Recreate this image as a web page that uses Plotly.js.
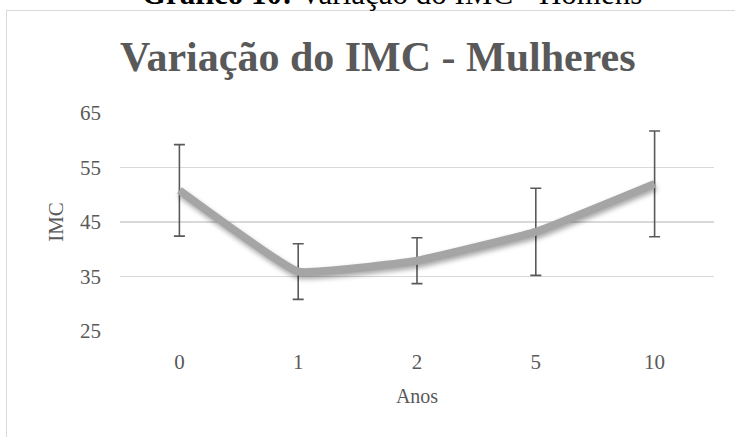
<!DOCTYPE html>
<html>
<head>
<meta charset="utf-8">
<script src="https://cdn.plot.ly/plotly-3.0.1.min.js"></script>
<style>
  html, body { margin: 0; padding: 0; background: #fff; overflow: hidden; }
  #wrap { position: relative; width: 735px; height: 437px; overflow: hidden; }
  #chart { position: absolute; left: 0; top: 0; width: 735px; height: 437px; }
  #frame { position: absolute; left: 6px; top: 10px; width: 800px; height: 500px;
           border-left: 1.5px solid #d9d9d9; border-top: 1.5px solid #d9d9d9; pointer-events: none; }
  #caption { position: absolute; left: 0; top: -22px; width: 784px; text-align: center;
             font-family: "Liberation Serif", "Times New Roman", serif; font-size: 31px;
             line-height: 31px; color: #000; white-space: nowrap; }
</style>
</head>
<body>
<div id="wrap">
  <div id="chart"></div>
  <div id="frame"></div>
  <div id="caption"><b>Gráfico 10:</b> Variação do IMC - Homens</div>
</div>
<script>
// Data
const anos = ['0', '1', '2', '5', '10'];
const imc = [50.8, 35.9, 37.9, 43.2, 52.0];
const desvio = [8.4, 5.1, 4.2, 8.0, 9.7];
const yTicks = [25, 35, 45, 55, 65];

const fontFam = '"Liberation Serif", "Times New Roman", serif';
const grey = '#595959';

const trace = {
  x: anos,
  y: imc,
  type: 'scatter',
  mode: 'lines',
  line: { color: '#a5a5a5', width: 8, shape: 'spline', smoothing: 0.3 },
  error_y: { type: 'data', array: desvio, visible: true, color: grey, thickness: 1.6, width: 5.5 },
  hoverinfo: 'skip'
};

const layout = {
  width: 735,
  height: 437,
  margin: { l: 120, r: 21, t: 113, b: 106 },
  paper_bgcolor: 'rgba(0,0,0,0)',
  plot_bgcolor: 'rgba(0,0,0,0)',
  showlegend: false,
  font: { family: fontFam, color: grey },
  title: {
    text: 'Variação do IMC - Mulheres',
    font: { family: fontFam, size: 42, color: grey, weight: 'bold' },
    xref: 'container', x: 0.514, xanchor: 'center',
    yref: 'container', y: 0.872, yanchor: 'middle'
  },
  xaxis: {
    type: 'category',
    range: [-0.5, 4.5],
    showgrid: false,
    zeroline: false,
    showline: false,
    ticks: '',
    ticklabelstandoff: 16,
    tickfont: { family: fontFam, size: 21, color: grey },
    title: { text: 'Anos', font: { family: fontFam, size: 20, color: grey }, standoff: 15 },
    automargin: false,
    fixedrange: true
  },
  yaxis: {
    range: [25, 65],
    tickvals: yTicks,
    ticktext: yTicks.map(String),
    showgrid: true,
    gridcolor: '#d9d9d9',
    gridwidth: 1.5,
    zeroline: false,
    showline: false,
    ticks: '',
    ticklabelstandoff: 18,
    tickfont: { family: fontFam, size: 21, color: grey },
    title: { text: 'IMC', font: { family: fontFam, size: 21, color: grey }, standoff: 10 },
    automargin: false,
    fixedrange: true
  }
};

Plotly.newPlot('chart', [trace], layout, { staticPlot: true, displayModeBar: false }).then(function () {
  document.querySelectorAll('#chart .scatterlayer .js-line').forEach(function (p) {
    p.style.filter = 'drop-shadow(1px 3px 2.5px rgba(0,0,0,0.35))';
  });
});
</script>
</body>
</html>
